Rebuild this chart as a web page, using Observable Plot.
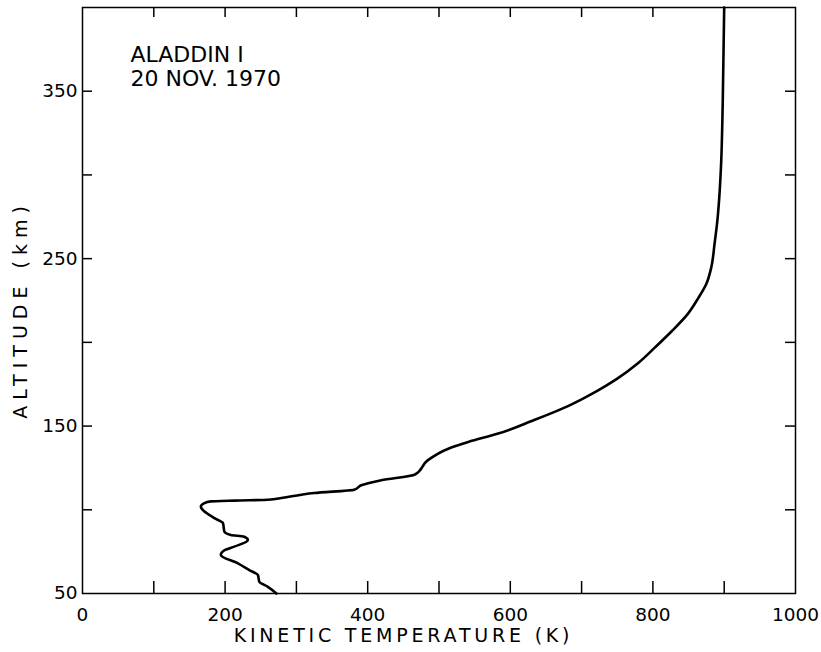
<!DOCTYPE html>
<html>
<head>
<meta charset="utf-8">
<script src="https://cdn.jsdelivr.net/npm/d3@7"></script>
<script src="https://cdn.jsdelivr.net/npm/@observablehq/plot@0.6"></script>
<style>
  html, body { margin: 0; padding: 0; background: #fff; }
  #chart svg { display: block; }
</style>
</head>
<body>
<div id="chart"></div>
<script>
// Kinetic temperature profile (K) vs altitude (km), ALADDIN I, 20 Nov 1970
const temperature = [272, 260, 248, 246, 234, 218, 194, 200, 213, 232, 226, 208, 199, 197, 185, 166, 171, 180, 213, 260, 279, 307, 325, 381, 391, 419, 466, 484, 513, 541, 583, 630, 676, 700, 722, 749, 779, 803, 826, 849, 863, 875, 882, 886.5, 890, 893, 895.5, 898, 900];
const altitude =    [50, 54, 57, 61, 64, 68, 73, 76, 78, 82, 84, 85, 87, 92, 95, 102, 104, 105, 105.5, 106, 107, 109, 110, 112, 114.6, 117.6, 121, 129.5, 136.5, 140.5, 145.5, 153, 161, 166, 171, 178, 187.5, 197, 206.5, 217, 226, 235, 245, 259, 271, 286, 305, 344, 400];

const xTickLabels = [0, 200, 400, 600, 800, 1000];
const xMinorTicks = [100, 200, 300, 400, 500, 600, 700, 800, 900];
const yTickLabels = [50, 150, 250, 350];
const yMinorTicks = [100, 150, 200, 250, 300, 350];
const xTitle = "KINETIC TEMPERATURE (K)";
const yTitle = "ALTITUDE (km)";
const annotation = ["ALADDIN I", "20 NOV. 1970"];

const profile = temperature.map((t, i) => ({t, alt: altitude[i]}));

const W = 821, H = 652;
const mL = 82, mR = 26, mT = 7, mB = 59;
const frameW = W - mL - mR, frameH = H - mT - mB;
const font = "'DejaVu Sans', sans-serif";

const chart = Plot.plot({
  width: W,
  height: H,
  marginLeft: mL,
  marginRight: mR,
  marginTop: mT,
  marginBottom: mB,
  style: {fontFamily: font, fontSize: "19px", color: "#000", background: "#fff", overflow: "visible"},
  x: {domain: [0, 1000]},
  y: {domain: [50, 400]},
  marks: [
    Plot.frame({stroke: "#000", strokeWidth: 1.5}),
    // inward ticks: bottom and top
    Plot.ruleX(xMinorTicks, {x: d => d, insetTop: frameH - 12, stroke: "#000", strokeWidth: 1.5}),
    Plot.ruleX(xMinorTicks, {x: d => d, insetBottom: frameH - 10, stroke: "#000", strokeWidth: 1.5}),
    // inward ticks: left and right
    Plot.ruleY(yMinorTicks, {y: d => d, insetRight: frameW - 10, stroke: "#000", strokeWidth: 1.5}),
    Plot.ruleY(yMinorTicks, {y: d => d, insetLeft: frameW - 10, stroke: "#000", strokeWidth: 1.5}),
    Plot.axisX(xTickLabels, {tickSize: 0, tickPadding: 14, fontSize: 18.5, tickFormat: d => String(d), label: null}),
    Plot.axisY(yTickLabels, {tickSize: 0, tickPadding: 5, fontSize: 18.5, tickFormat: d => String(d), label: null}),
    Plot.text([xTitle], {frameAnchor: "bottom-left", dx: 321, dy: 48, textAnchor: "middle", fontSize: 19, fill: "#000"}),
    Plot.text([yTitle], {frameAnchor: "left", dx: -62, dy: 9, rotate: -90, textAnchor: "middle", fontSize: 19, fill: "#000"}),
    Plot.text([annotation.join("\n")], {frameAnchor: "top-left", dx: 48, dy: 37, textAnchor: "start", lineAnchor: "top", fontSize: 22, lineHeight: 1.1, fill: "#000"}),
    Plot.line(profile, {x: "t", y: "alt", curve: "monotone-y", stroke: "#000", strokeWidth: 2.6, strokeLinejoin: "round", strokeLinecap: "round"})
  ]
});

d3.select(chart).selectAll("text").each(function () {
  const s = d3.select(this).text();
  if (s === xTitle) d3.select(this).attr("letter-spacing", "3.8px");
  if (s === yTitle) d3.select(this).attr("letter-spacing", "6px");
});

document.getElementById("chart").appendChild(chart);
</script>
</body>
</html>
